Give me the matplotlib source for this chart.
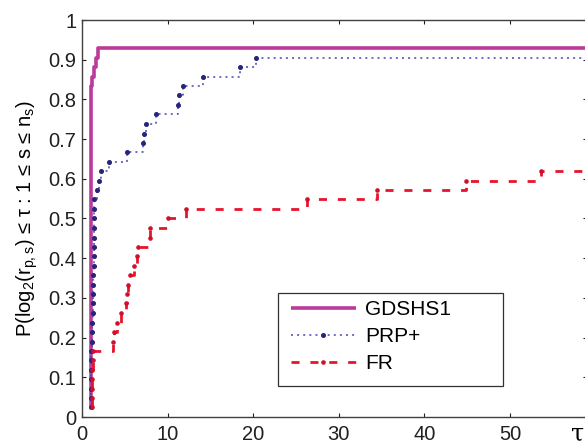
"""Performance profile: GDSHS1 vs PRP+ vs FR."""

import matplotlib
matplotlib.use("Agg")
import matplotlib.pyplot as plt
from matplotlib.patches import Rectangle

plt.rcParams["font.family"] = ["Liberation Sans", "DejaVu Sans"]
plt.rcParams["mathtext.fontset"] = "custom"
plt.rcParams["mathtext.rm"] = "Liberation Sans"

# performance ratio (tau) at which each solved problem is counted, and the
# fraction of the 42 problems solved within that ratio
gd_tau = [1.0, 1.0, 1.1, 1.2, 1.35, 1.6, 1.9]
gd_rho = [0.024, 0.810, 0.833, 0.857, 0.881, 0.905, 0.929]

prp_tau = [1.0, 1.0, 1.0, 1.05, 1.05, 1.1, 1.1, 1.15, 1.2, 1.2, 1.25, 1.25,
           1.3, 1.3, 1.3, 1.35, 1.35, 1.35, 1.4, 1.4, 1.4, 1.45, 1.45,
           1.8, 2.0, 2.2, 3.1, 5.25, 7.1, 7.3, 7.5, 8.6, 11.2, 11.35, 11.75,
           14.1, 18.5, 20.3]
prp_rho = [0.024, 0.048, 0.071, 0.095, 0.119, 0.143, 0.167, 0.190, 0.214,
           0.238, 0.262, 0.286, 0.310, 0.333, 0.357, 0.381, 0.405, 0.429,
           0.452, 0.476, 0.500, 0.524, 0.548, 0.571, 0.595, 0.619, 0.643,
           0.667, 0.690, 0.714, 0.738, 0.762, 0.786, 0.810, 0.833, 0.857,
           0.881, 0.905]

fr_tau = [1.15, 1.17, 1.18, 1.2, 1.22, 1.23, 1.25, 3.6, 3.7, 4.1, 4.6, 5.1,
          5.3, 5.4, 5.6, 6.1, 6.4, 6.5, 7.9, 8.0, 10.0, 12.2, 26.3, 34.5,
          44.9, 53.6]
fr_rho = [0.024, 0.048, 0.071, 0.095, 0.119, 0.143, 0.167, 0.190, 0.214,
          0.238, 0.262, 0.286, 0.310, 0.333, 0.357, 0.381, 0.405, 0.429,
          0.452, 0.476, 0.500, 0.524, 0.548, 0.571, 0.595, 0.619]

labels = ["GDSHS1", "PRP+", "FR"]
x_max = 59.0
y_ticks = [0, 0.1, 0.2, 0.3, 0.4, 0.5, 0.6, 0.7, 0.8, 0.9, 1]
y_tick_labels = ["0", "0.1", "0.2", "0.3", "0.4", "0.5", "0.6", "0.7",
                 "0.8", "0.9", "1"]
x_ticks = [0, 10, 20, 30, 40, 50]

W, H = 585, 444


def extend(tau, rho):
    # unsolved problems sit past the axis, so the last level runs off the edge
    return list(tau) + [2 * x_max], list(rho) + [rho[-1]]


fig = plt.figure(figsize=(W / 100, H / 100), dpi=100)
ax = fig.add_axes([82 / W, (H - 417) / H, 505 / W, 397 / H])

x, y = extend(gd_tau, gd_rho)
ax.plot(x, y, drawstyle="steps-post", color="#bc3a9c", lw=2.6,
        label=labels[0], solid_capstyle="butt")

x, y = extend(prp_tau, prp_rho)
ax.plot(x, y, drawstyle="steps-post", color="#4545b0", lw=1.1,
        dashes=(1.3, 2.7), marker="o", ms=2.6, mfc="#25257a", mec="#25257a",
        markevery=list(range(len(prp_tau))), label=labels[1])

x, y = extend(fr_tau, fr_rho)
ax.plot(x, y, drawstyle="steps-post", color="#e8142c", lw=2.0,
        dashes=(2.9, 3.9), marker="o", ms=2.3, mfc="#d0102a", mec="#d0102a",
        markevery=list(range(len(fr_tau))), label=labels[2])

ax.set_xlim(0, x_max)
ax.set_ylim(0, 1)
ax.set_xticks(x_ticks)
ax.set_yticks(y_ticks)
ax.set_yticklabels(y_tick_labels)
ax.tick_params(direction="in", length=3, width=0.8, top=True, right=True,
               labelsize=14.5, colors="#202020", pad=4)
ax.tick_params(axis="x", pad=6)
for spine in ax.spines.values():
    spine.set_color("#404040")
    spine.set_linewidth(1.0)

ax.set_ylabel("P(log$\\mathregular{_2}$(r$\\mathregular{_{p,s}}$) ≤ τ : 1 ≤ s ≤ n$\\mathregular{_s}$)",
              fontsize=14.5, labelpad=6)

# legend box drawn separately: the original frame is wider than its entries
ax.add_patch(Rectangle(((278 - 82) / 505, (417 - 386) / 397), 225 / 505,
                       93 / 397, transform=ax.transAxes, fill=True,
                       facecolor="white", edgecolor="#303030", lw=0.9,
                       zorder=5))
leg = ax.legend(loc="upper left", bbox_to_anchor=((291 - 82) / 505, (417 - 300) / 397),
                frameon=False, fontsize=15, borderpad=0, borderaxespad=0,
                handlelength=3.1, handletextpad=0.45, labelspacing=0.38,
                numpoints=1)
leg.set_zorder(6)

fig.text(578 / W, (H - 434) / H, "τ", fontsize=17, family="DejaVu Serif",
         ha="center", va="center")

fig.savefig("out.png", dpi=100)
